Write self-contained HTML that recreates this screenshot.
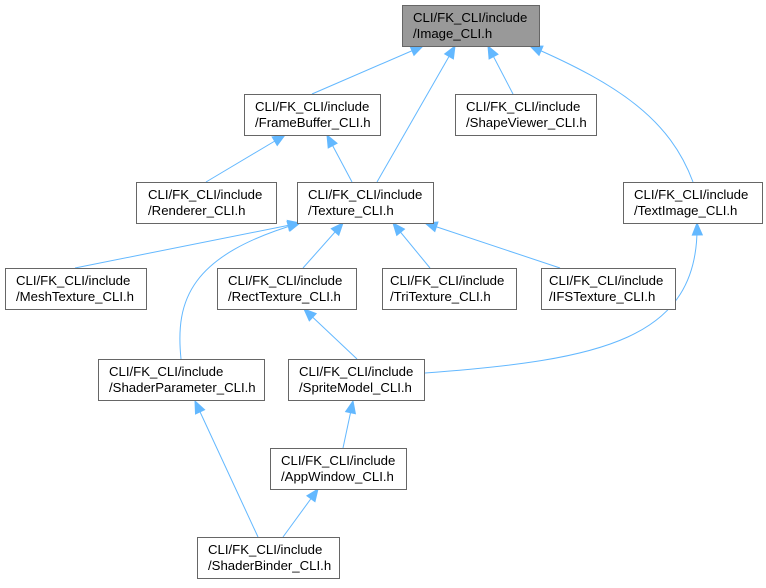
<!DOCTYPE html>
<html><head><meta charset="utf-8"><style>
body{margin:0;background:#fff;}
svg text{font-family:"Liberation Sans",Helvetica,sans-serif;font-size:13.2px;fill:#000;}
</style></head><body>
<svg width="766" height="583" viewBox="0 0 766 583" xmlns="http://www.w3.org/2000/svg">
<g fill="none" stroke="#63b8ff" stroke-width="1">
<path d="M423,46 L312,94"/>
<path d="M455,46 L377,182"/>
<path d="M488,46 L513,94"/>
<path d="M530,46 C620,85 670,120 693,182"/>
<path d="M285,135 L206,182"/>
<path d="M327,135 L352,182"/>
<path d="M300,223 L75,268"/>
<path d="M300,223 C190,255 175,300 181,359"/>
<path d="M343,223 L303,268"/>
<path d="M393,223 L430,268"/>
<path d="M425,223 L560,268"/>
<path d="M304,309 L357,359"/>
<path d="M697,223 C700,340 600,360 425,373"/>
<path d="M353,401 L343,448"/>
<path d="M195,401 L258,537"/>
<path d="M318,489 L283,537"/>
</g>
<g fill="#63b8ff" stroke="#63b8ff">
<polygon points="0,0 12,-5 12,5" transform="translate(423,46) rotate(156.6)"/>
<polygon points="0,0 12,-5 12,5" transform="translate(455,46) rotate(119.8)"/>
<polygon points="0,0 12,-5 12,5" transform="translate(488,46) rotate(62.5)"/>
<polygon points="0,0 12,-5 12,5" transform="translate(530,46) rotate(23.4)"/>
<polygon points="0,0 12,-5 12,5" transform="translate(285,135) rotate(149.3)"/>
<polygon points="0,0 12,-5 12,5" transform="translate(327,135) rotate(62)"/>
<polygon points="0,0 12,-5 12,5" transform="translate(300,223) rotate(168.7)"/>
<polygon points="0,0 12,-5 12,5" transform="translate(300,223) rotate(163.8)"/>
<polygon points="0,0 12,-5 12,5" transform="translate(343,223) rotate(131.6)"/>
<polygon points="0,0 12,-5 12,5" transform="translate(393,223) rotate(50.6)"/>
<polygon points="0,0 12,-5 12,5" transform="translate(425,223) rotate(18.4)"/>
<polygon points="0,0 12,-5 12,5" transform="translate(304,309) rotate(43.3)"/>
<polygon points="0,0 12,-5 12,5" transform="translate(697,223) rotate(88.5)"/>
<polygon points="0,0 12,-5 12,5" transform="translate(353,401) rotate(102)"/>
<polygon points="0,0 12,-5 12,5" transform="translate(195,401) rotate(65.1)"/>
<polygon points="0,0 12,-5 12,5" transform="translate(318,489) rotate(126.1)"/>
</g>
<g stroke="#666" stroke-width="1">
<rect x="402.5" y="5.5" width="137" height="41" fill="#999"/>
<rect x="244.5" y="94.5" width="136" height="41" fill="#fff"/>
<rect x="455.5" y="94.5" width="141" height="41" fill="#fff"/>
<rect x="136.5" y="182.5" width="140" height="41" fill="#fff"/>
<rect x="297.5" y="182.5" width="136" height="41" fill="#fff"/>
<rect x="623.5" y="182.5" width="139" height="41" fill="#fff"/>
<rect x="5.5" y="268.5" width="141" height="41" fill="#fff"/>
<rect x="217.5" y="268.5" width="139" height="41" fill="#fff"/>
<rect x="382.5" y="268.5" width="134" height="41" fill="#fff"/>
<rect x="541.5" y="268.5" width="134" height="41" fill="#fff"/>
<rect x="98.5" y="359.5" width="166" height="41" fill="#fff"/>
<rect x="288.5" y="359.5" width="136" height="41" fill="#fff"/>
<rect x="270.5" y="448.5" width="136" height="41" fill="#fff"/>
<rect x="197.5" y="537.5" width="142" height="41" fill="#fff"/>
</g>
<g>
<text x="413" y="22">CLI/FK_CLI/include</text><text x="413" y="38">/Image_CLI.h</text>
<text x="255" y="111">CLI/FK_CLI/include</text><text x="255" y="127">/FrameBuffer_CLI.h</text>
<text x="466" y="111">CLI/FK_CLI/include</text><text x="466" y="127">/ShapeViewer_CLI.h</text>
<text x="148" y="199">CLI/FK_CLI/include</text><text x="148" y="215">/Renderer_CLI.h</text>
<text x="308" y="199">CLI/FK_CLI/include</text><text x="308" y="215">/Texture_CLI.h</text>
<text x="634" y="199">CLI/FK_CLI/include</text><text x="634" y="215">/TextImage_CLI.h</text>
<text x="16" y="285">CLI/FK_CLI/include</text><text x="16" y="301">/MeshTexture_CLI.h</text>
<text x="228" y="285">CLI/FK_CLI/include</text><text x="228" y="301">/RectTexture_CLI.h</text>
<text x="390" y="285">CLI/FK_CLI/include</text><text x="390" y="301">/TriTexture_CLI.h</text>
<text x="549" y="285">CLI/FK_CLI/include</text><text x="549" y="301">/IFSTexture_CLI.h</text>
<text x="109" y="376">CLI/FK_CLI/include</text><text x="109" y="392">/ShaderParameter_CLI.h</text>
<text x="299" y="376">CLI/FK_CLI/include</text><text x="299" y="392">/SpriteModel_CLI.h</text>
<text x="281" y="465">CLI/FK_CLI/include</text><text x="281" y="481">/AppWindow_CLI.h</text>
<text x="208" y="554">CLI/FK_CLI/include</text><text x="208" y="570">/ShaderBinder_CLI.h</text>
</g>
</svg>
</body></html>
